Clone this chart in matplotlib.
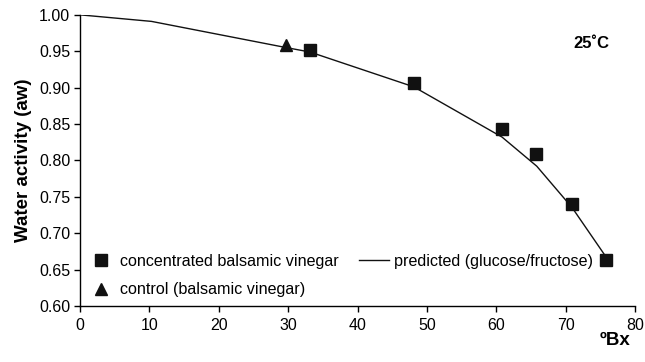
import numpy as np
import matplotlib.pyplot as plt
from matplotlib.ticker import FormatStrFormatter

plt.rcParams['font.family'] = ['Liberation Sans', 'DejaVu Sans']

# measured: concentrated balsamic vinegar
bx_conc = [33.1, 48.1, 60.8, 65.7, 70.9, 75.8]
aw_conc = [0.952, 0.907, 0.843, 0.809, 0.740, 0.663]

# control
bx_ctrl = [29.7]
aw_ctrl = [0.959]

# predicted (glucose/fructose)
bx_pred = [0, 10.3, 29.7, 33.1, 48.1, 60.8, 65.8, 70.9, 75.8]
aw_pred = [1.000, 0.991, 0.955, 0.949, 0.901, 0.832, 0.792, 0.735, 0.667]

fig = plt.figure(figsize=(6.45, 3.62), dpi=100)
ax = fig.add_axes([0.124, 0.155, 0.861, 0.804])

h1, = ax.plot(bx_conc, aw_conc, 's', color='#111111', ms=8, label='concentrated balsamic vinegar', zorder=3)
h2, = ax.plot(bx_ctrl, aw_ctrl, '^', color='#111111', ms=8.5, label='control (balsamic vinegar)', zorder=3)
h3, = ax.plot(bx_pred, aw_pred, '-', color='#111111', lw=1.0, label='predicted (glucose/fructose)')

ax.set_xlim(0, 80)
ax.set_ylim(0.60, 1.00)
ax.set_xticks(np.arange(0, 81, 10))
ax.set_yticks(np.arange(0.60, 1.001, 0.05))
ax.yaxis.set_major_formatter(FormatStrFormatter('%.2f'))
ax.spines['top'].set_visible(False)
ax.spines['right'].set_visible(False)
for s in ['left', 'bottom']:
    ax.spines[s].set_linewidth(1.0)
ax.tick_params(direction='out', length=4, width=1.0, labelsize=11.5, pad=3)
ax.tick_params(axis='x', pad=5)

ax.set_ylabel('Water activity (aw)', fontsize=13.5, fontweight='bold', labelpad=5)
ax.text(0.991, -0.12, 'ºBx', transform=ax.transAxes, ha='right', va='center',
        fontsize=13.5, fontweight='bold')
ax.text(0.953, 0.90, '25˚C', transform=ax.transAxes, ha='right', va='center',
        fontsize=12, fontweight='bold')

ax.legend(handles=[h1, h2, h3], ncol=2, frameon=False, fontsize=11.6,
          loc='lower left', bbox_to_anchor=(-0.016, -0.02), handlelength=1.86,
          handletextpad=0.3, columnspacing=1.22, labelspacing=0.82)

fig.savefig('out.png', dpi=100)
